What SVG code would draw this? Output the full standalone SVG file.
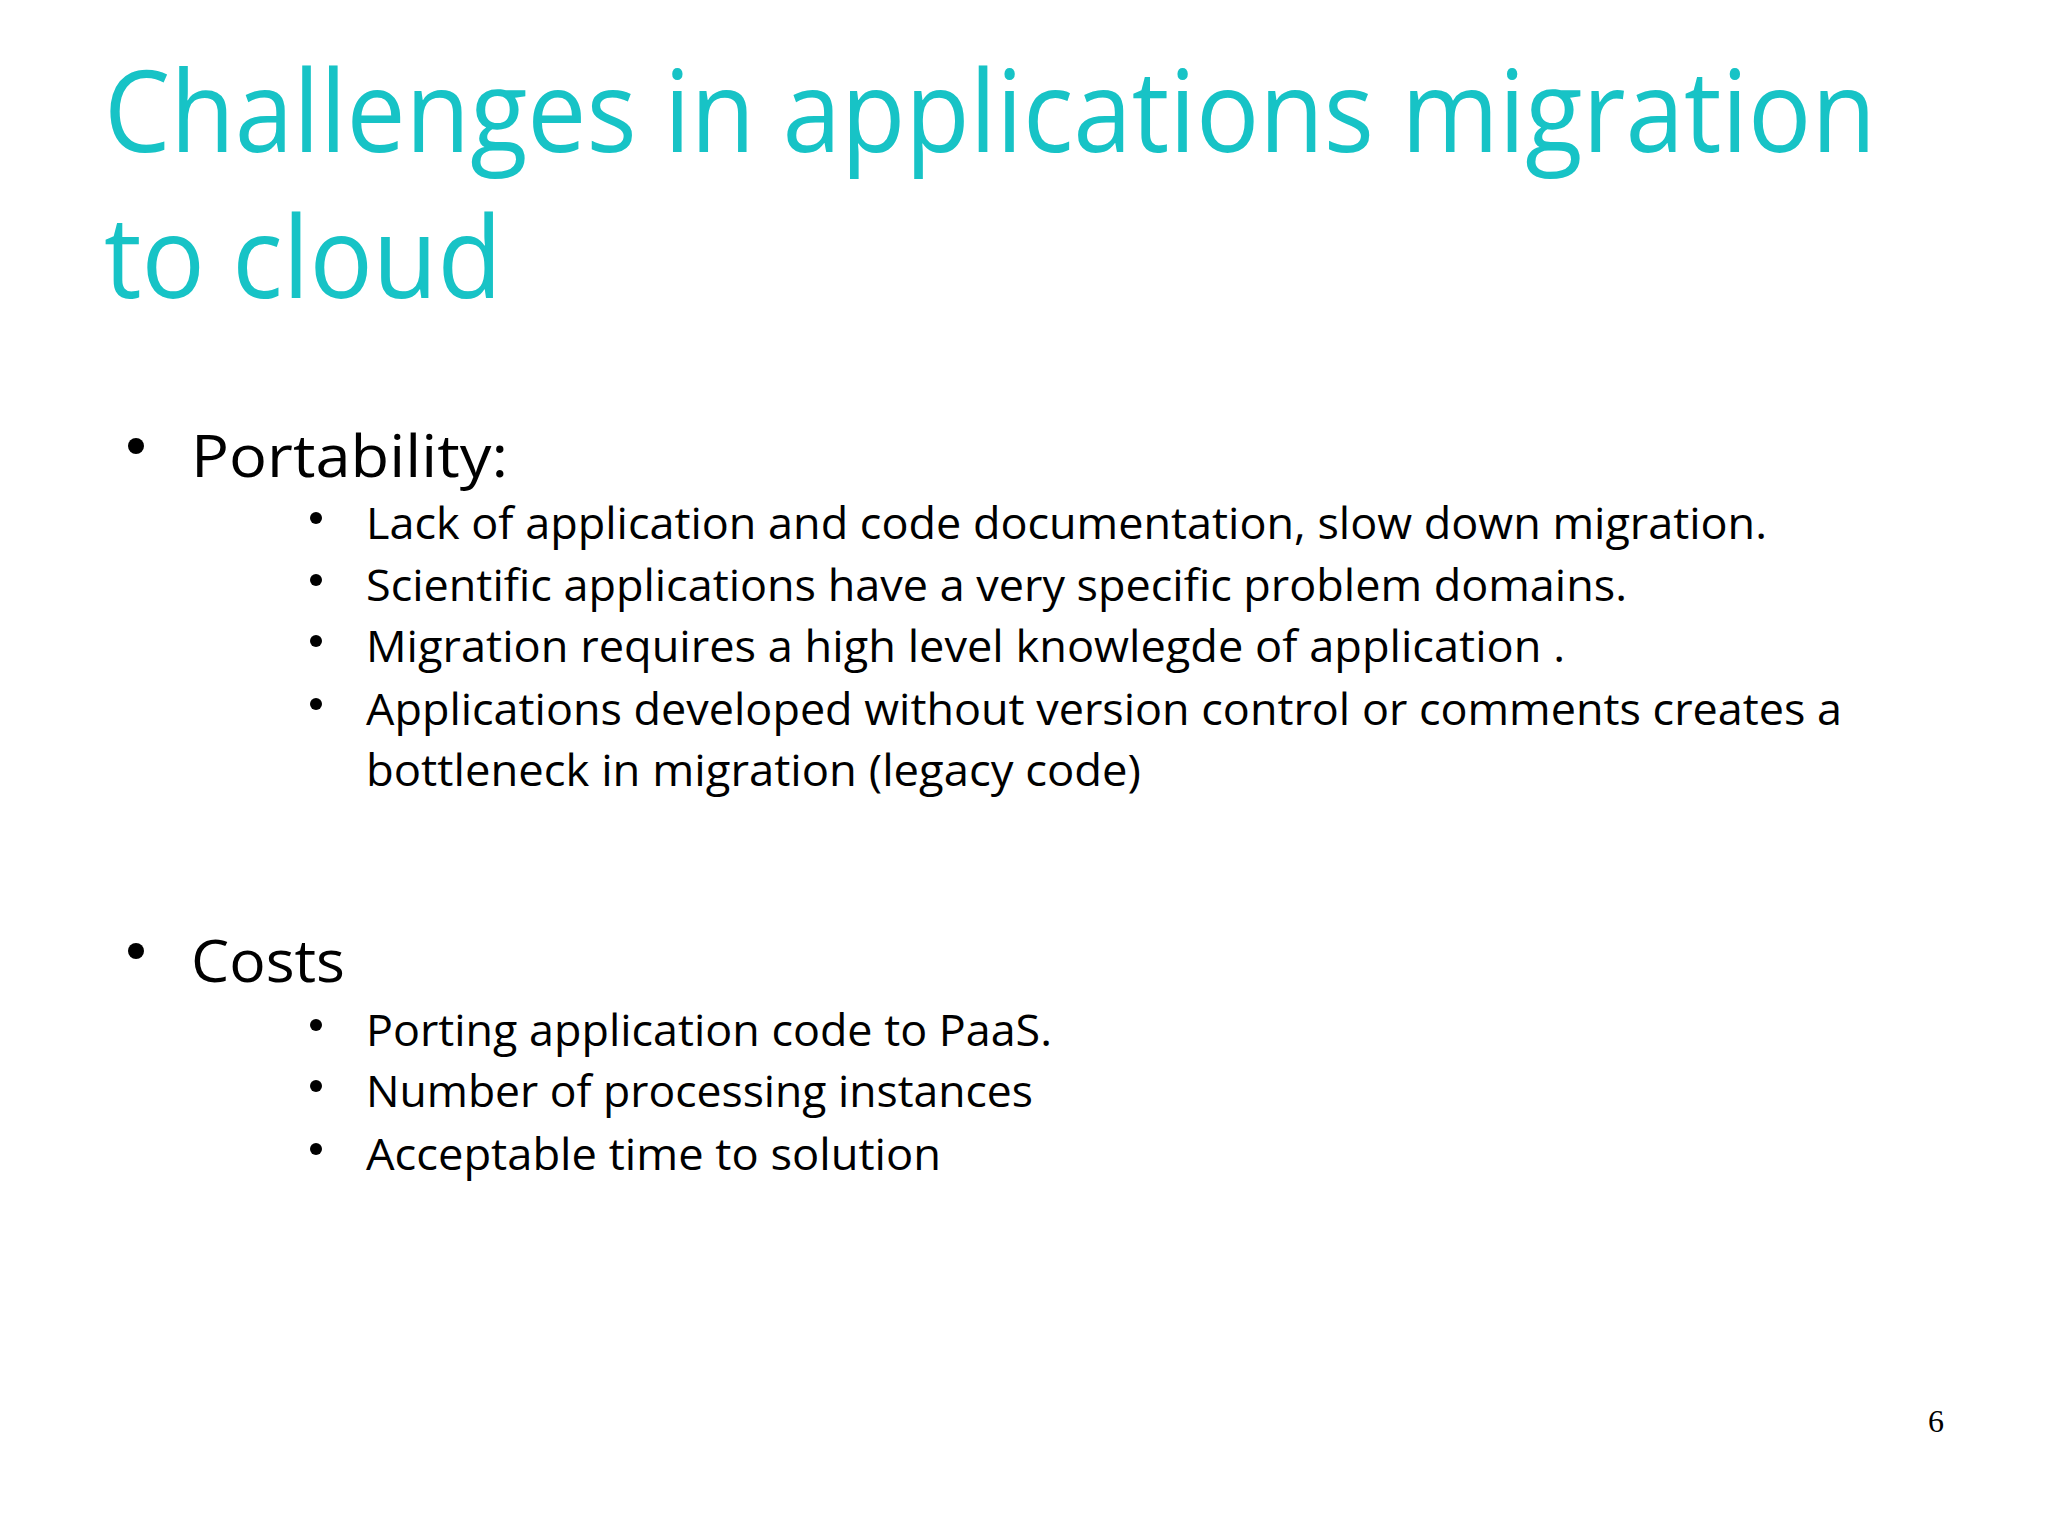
<svg xmlns="http://www.w3.org/2000/svg" width="2048" height="1535" viewBox="0 0 2048 1535">
<style>
.t{font-family:"Open Sans","Liberation Sans",sans-serif;fill:#17C3C6;font-size:114px;font-weight:400}
.b1{font-family:"Open Sans","Liberation Sans",sans-serif;fill:#000;font-size:58px}
.b2{font-family:"Open Sans","Liberation Sans",sans-serif;fill:#000;font-size:43px}
.d{fill:#000}
</style>
<rect width="2048" height="1535" fill="#fff"/>
<g id="title">
<text class="t" x="104" y="152" textLength="1772" lengthAdjust="spacingAndGlyphs">Challenges in applications migration</text>
<text class="t" x="104" y="298" textLength="398" lengthAdjust="spacingAndGlyphs">to cloud</text>
</g>
<g id="portability">
<circle class="d" cx="136" cy="446" r="8"/>
<text class="b1" x="191" y="477" textLength="317" lengthAdjust="spacingAndGlyphs">Portability:</text>
<circle class="d" cx="316" cy="518" r="6"/>
<text class="b2" x="366" y="539" textLength="1401" lengthAdjust="spacingAndGlyphs">Lack of application and code documentation, slow down migration.</text>
<circle class="d" cx="316" cy="580" r="6"/>
<text class="b2" x="366" y="601" textLength="1261" lengthAdjust="spacingAndGlyphs">Scientific applications have a very specific problem domains.</text>
<circle class="d" cx="316" cy="641" r="6"/>
<text class="b2" x="366" y="662" textLength="1199" lengthAdjust="spacingAndGlyphs">Migration requires a high level knowlegde of application .</text>
<circle class="d" cx="316" cy="704" r="6"/>
<text class="b2" x="366" y="725" textLength="1476" lengthAdjust="spacingAndGlyphs">Applications developed without version control or comments creates a</text>
<text class="b2" x="366" y="786" textLength="775" lengthAdjust="spacingAndGlyphs">bottleneck in migration (legacy code)</text>
</g>
<g id="costs">
<circle class="d" cx="136" cy="951" r="8"/>
<text class="b1" x="191" y="982" textLength="154" lengthAdjust="spacingAndGlyphs">Costs</text>
<circle class="d" cx="316" cy="1025" r="6"/>
<text class="b2" x="366" y="1046" textLength="686" lengthAdjust="spacingAndGlyphs">Porting application code to PaaS.</text>
<circle class="d" cx="316" cy="1086" r="6"/>
<text class="b2" x="366" y="1107" textLength="667" lengthAdjust="spacingAndGlyphs">Number of processing instances</text>
<circle class="d" cx="316" cy="1149" r="6"/>
<text class="b2" x="366" y="1170" textLength="575" lengthAdjust="spacingAndGlyphs">Acceptable time to solution</text>
</g>
<g id="page">
<text x="1928" y="1432" font-family="Liberation Serif,serif" font-size="32" fill="#000">6</text>
</g>
</svg>
